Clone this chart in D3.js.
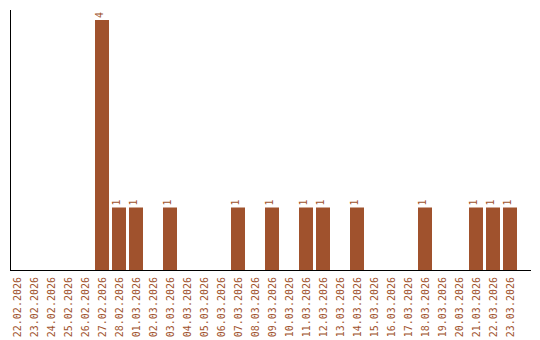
<!DOCTYPE html>
<html>
<head>
<meta charset="utf-8">
<script src="https://cdn.jsdelivr.net/npm/d3@7"></script>
<style>
  body { margin: 0; background: #fff; }
  text { font-family: "DejaVu Sans Mono", monospace; font-size: 10px; fill: #a0522d; }
</style>
</head>
<body>
<script>
// data
var dates = ["22.02.2026","23.02.2026","24.02.2026","25.02.2026","26.02.2026","27.02.2026",
  "28.02.2026","01.03.2026","02.03.2026","03.03.2026","04.03.2026","05.03.2026","06.03.2026",
  "07.03.2026","08.03.2026","09.03.2026","10.03.2026","11.03.2026","12.03.2026","13.03.2026",
  "14.03.2026","15.03.2026","16.03.2026","17.03.2026","18.03.2026","19.03.2026","20.03.2026",
  "21.03.2026","22.03.2026","23.03.2026"];
var counts = [0,0,0,0,0,4,1,1,0,1,0,0,0,1,0,1,0,1,1,0,1,0,0,0,1,0,0,1,1,1];

var color = "#a0522d";

var svg = d3.select("body").append("svg").attr("width", 540).attr("height", 340);

var x = d3.scaleBand().domain(dates).range([8.5, 518.5])
  .paddingInner(3 / 17).paddingOuter(1.5 / 17);
var y = d3.scaleLinear().domain([0, 4]).range([270, 20]);

var rows = dates.map(function(d, i) { return {date: d, value: counts[i]}; });

// bars
svg.selectAll("rect.bar").data(rows.filter(function(d) { return d.value > 0; }))
  .enter().append("rect")
  .attr("class", "bar")
  .attr("x", function(d) { return x(d.date); })
  .attr("y", function(d) { return y(d.value); })
  .attr("width", x.bandwidth())
  .attr("height", function(d) { return y(0) - y(d.value); })
  .attr("fill", color);

// value labels
svg.selectAll("text.val").data(rows.filter(function(d) { return d.value > 0; }))
  .enter().append("text")
  .attr("class", "val")
  .attr("transform", function(d) {
    return "translate(" + (x(d.date) + x.bandwidth() / 2 + 1) + "," + (y(d.value) - 2) + ") rotate(-90)";
  })
  .text(function(d) { return d.value; });

// axes
svg.append("line").attr("x1", 10.5).attr("x2", 10.5).attr("y1", 10).attr("y2", 270.5)
  .attr("stroke", "#000");
svg.append("line").attr("x1", 10).attr("x2", 531).attr("y1", 270.5).attr("y2", 270.5)
  .attr("stroke", "#000");

// date labels
svg.selectAll("text.tick").data(dates)
  .enter().append("text")
  .attr("class", "tick")
  .attr("text-anchor", "end")
  .attr("dy", "0.35em")
  .attr("transform", function(d) {
    return "translate(" + (x(d) + x.bandwidth() / 2) + ",277) rotate(-90)";
  })
  .text(function(d) { return d; });
</script>
</body>
</html>
